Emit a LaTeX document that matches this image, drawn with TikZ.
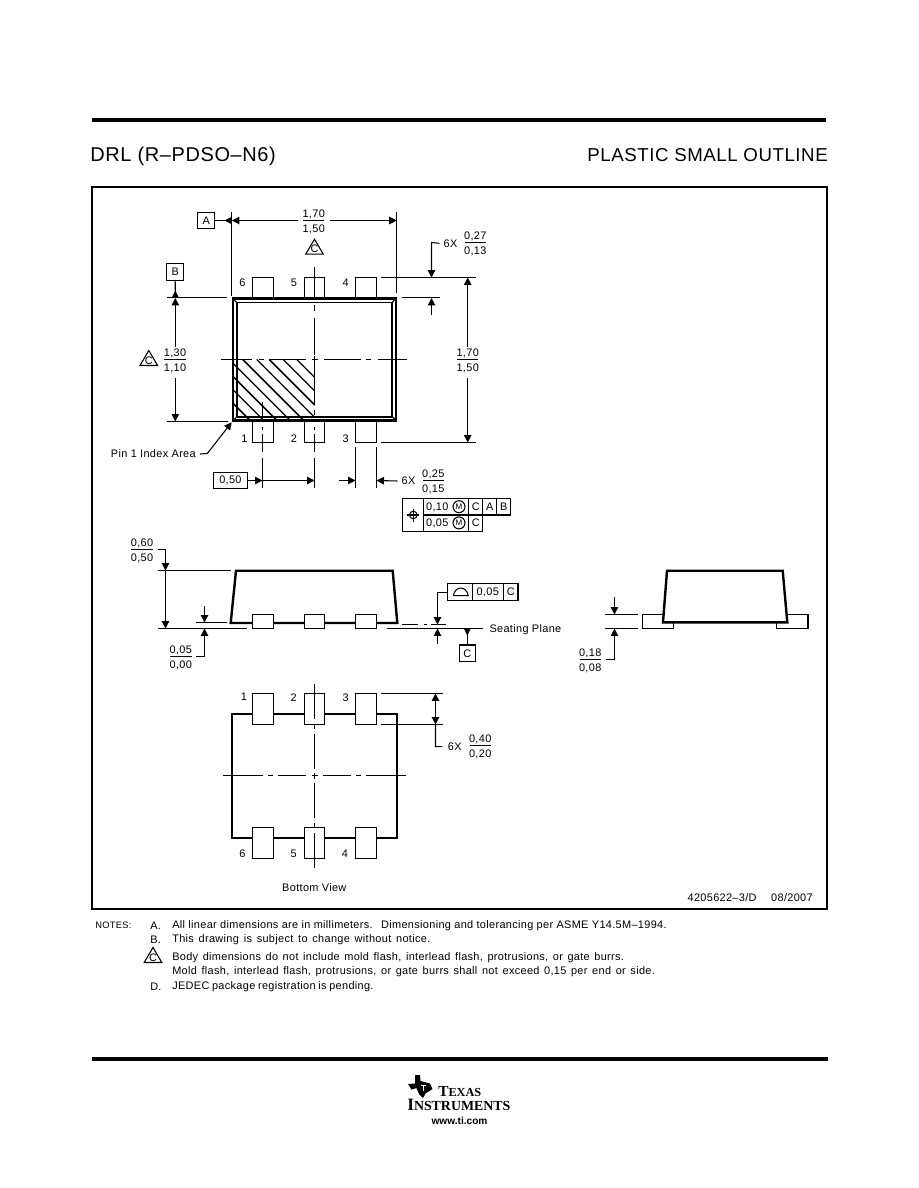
\documentclass[tikz,border=0pt]{standalone}
\usepackage{fontspec}
\setmainfont[LetterSpace=3]{Liberation Sans}
\newfontfamily\plainsans{Liberation Sans}
\newfontfamily\logoserif{Liberation Serif}
\usetikzlibrary{arrows.meta}
\tikzset{
  >={Triangle[length=5.6pt,width=5.6pt]},
  lbl/.style={inner sep=0pt,font=\fontsize{8.2}{9}\selectfont},
  titletxt/.style={inner sep=0pt,font=\fontsize{14}{16}\selectfont},
  thinline/.style={line width=0.8pt},
  bodyline/.style={line width=1.8pt},
  pinbox/.style={line width=0.8pt,fill=white},
  cline/.style={line width=0.8pt,dash pattern=on 2.25pt off 4.3pt on 21pt off 3.75pt on 3.75pt off 3.75pt on 30pt off 60pt},
  clinev/.style={line width=0.8pt,dash pattern=on 2.25pt off 3pt on 26.25pt off 3.75pt on 3.75pt off 3.75pt on 26.25pt off 60pt},
  clinetop/.style={line width=0.8pt,dash pattern=on 2.25pt off 4.5pt on 27.75pt off 3.75pt on 3.75pt off 5.25pt on 25pt off 60pt},
}
% fraction: name, x, y of the bar, upper and lower value
\newcommand{\tolfrac}[5]{
  \node[lbl] (#1up) at (#2,#3-6) {#4};
  \node[lbl] (#1lo) at (#2,#3+8.5) {#5};
  \draw[thinline] (#2-10.7,#3) -- (#2+10.7,#3);
}
% triangle with a C in it
\newcommand{\tricee}[3]{
  \draw[thinline] (#2-8.8,#3+7.5) -- (#2+8.8,#3+7.5) -- (#2,#3-7.5) -- cycle;
  \node[lbl] (#1) at (#2,#3+2.3) {C};
}
\begin{document}
\begin{tikzpicture}[x=0.75pt,y=-0.75pt]
  \useasboundingbox (0,0) rectangle (918,1188);
  \fill[white] (0,0) rectangle (918,1188);

  % header and frame
  \draw[line width=2.8pt] (92,120) -- (826,120);
  \node[titletxt,font=\fontsize{15}{16}\selectfont,anchor=base west] (title) at (90,161) {DRL (R–PDSO–N6)};
  \node[titletxt,anchor=base east] (subtitle) at (828,161) {PLASTIC SMALL OUTLINE};
  \draw[line width=1.5pt] (92,187) rectangle (827,909);
  \node[lbl,anchor=east] (docnum) at (813,898) {4205622–3/D\hspace{11pt}08/2007};

  % top view, pins
  \foreach \px/\pw in {252.3/21.4,304.3/20.4,355.3/21.4} {
    \draw[thinline] (\px,298) rectangle (\px+\pw,277.5);
    \draw[thinline] (\px,421) rectangle (\px+\pw,442.5);
  }
  % hatched corner
  \begin{scope}
    \clip (232,359.5) rectangle (314.5,421);
    \foreach \xt/\lw in {296.7/0.9,283.3/0.9,269.3/1.25,256.7/0.9,242.7/1.25,229.3/0.9,216/1.25,202.7/0.9,189.3/1.25}
      \draw[line width=\lw pt] (\xt,359.5) -- ++(70,70);
  \end{scope}
  % body, double outline
  \draw[line width=2pt] (233,298.7) rectangle (396,420.5);
  \draw[line width=1.4pt] (236.8,302.5) rectangle (392.3,417);
  \foreach \cx/\cy/\dx/\dy in {233/298.7/4/4,396/298.7/-4/4,233/420.5/4/-4,396/420.5/-4/-4}
    \draw[thinline] (\cx,\cy) -- ++(\dx,\dy);
  % centre lines
  \draw[clinetop] (314.5,359.5) -- (406.8,359.5);
  \draw[clinetop] (314.5,359.5) -- (221,359.5);
  \draw[thinline] (314.5,267) -- (314.5,297) (314.5,305) -- (314.5,311) (314.5,318) -- (314.5,355);
  \draw[thinline] (314.5,356) -- (314.5,405) (314.5,410) -- (314.5,415);
  \foreach \lx in {262.5,314.5}
    \draw[thinline] (\lx,427) -- (\lx,430) (\lx,434) -- (\lx,452) (\lx,458) -- (\lx,488);
  \draw[thinline] (262.5,401.7) -- (262.5,421);

  \node[lbl] (top6) at (242.3,282.5) {6};
  \node[lbl] (top5) at (294,282.5) {5};
  \node[lbl] (top4) at (345.7,282.5) {4};
  \node[lbl] (top1) at (244.3,439) {1};
  \node[lbl] (top2) at (294,439) {2};
  \node[lbl] (top3) at (345.7,439) {3};

  % width dimension and datum A
  \node[draw,thinline,lbl,minimum width=12.8pt,minimum height=12.3pt] (dtmA) at (206.2,220.5) {A};
  \draw[thinline] (231.7,212) -- (231.7,296);
  \draw[thinline] (396.7,212) -- (396.7,292.7);
  \draw[thinline] (dtmA.east) -- (226,220.5);
  \fill (231.3,217) -- (224.5,220.5) -- (231.3,224) -- cycle;
  \draw[thinline,->] (298,220.5) -- (232,220.5);
  \draw[thinline,->] (330,220.5) -- (396.7,220.5);
  \tolfrac{wd}{313.7}{220.5}{1,70}{1,50}
  \tricee{wdC}{314.5}{246.7}

  % height dimension and datum B
  \node[draw,thinline,lbl,minimum width=12.8pt,minimum height=12.8pt] (dtmB) at (175.2,271.8) {B};
  \draw[thinline] (167.3,297.5) -- (226.7,297.5);
  \draw[thinline] (167.3,421.5) -- (228,421.5);
  \draw[thinline] (dtmB.south) -- (175.3,292);
  \fill (171.8,297.5) -- (175.3,290.5) -- (178.8,297.5) -- cycle;
  \draw[thinline,->] (175.3,346.7) -- (175.3,298);
  \draw[thinline,->] (175.3,378.3) -- (175.3,421.5);
  \tolfrac{ht}{175}{359.5}{1,30}{1,10}
  \tricee{htC}{148.8}{358}

  % overall height
  \draw[thinline] (381,277.5) -- (475.7,277.5);
  \draw[thinline] (381,442.5) -- (475.7,442.5);
  \draw[thinline,->] (467.7,346.7) -- (467.7,277.5);
  \draw[thinline,->] (467.7,378.3) -- (467.7,442.5);
  \tolfrac{ov}{467.7}{359.5}{1,70}{1,50}

  % lead thickness, top
  \draw[thinline] (401.7,297.5) -- (440,297.5);
  \node[lbl] (topsix) at (450.5,243.3) {6X};
  \tolfrac{lt}{475.3}{242.5}{0,27}{0,13}
  \draw[thinline,->] ([xshift=-3pt]topsix.west) -- (431.5,242.5) -- (431.5,277.5);
  \draw[thinline,->] (431.5,315) -- (431.5,298);

  % pin 1 leader
  \node[lbl,anchor=east] (pinidx) at (196,454) {Pin 1 Index Area};
  \draw[thinline,->] ([xshift=3pt]pinidx.east) -- (207.3,453.5) -- (231.7,422.3);

  % pitch and lead width
  \node[draw,thinline,lbl,minimum width=26pt,minimum height=12pt] (pitch) at (230.4,480.5) {0,50};
  \draw[thinline,->] (pitch.east) -- (262.5,480.5);
  \draw[thinline,->] (262.5,480.5) -- (314.5,480.5);
  \draw[thinline] (355.5,447) -- (355.5,488);
  \draw[thinline] (376.5,447) -- (376.5,488);
  \node[lbl] (lwsix) at (408.5,481) {6X};
  \draw[thinline,->] (339,480.5) -- (355.5,480.5);
  \draw[thinline,->] ([xshift=-3pt]lwsix.west) -- (376.5,480.5);
  \tolfrac{lw}{433.3}{480.5}{0,25}{0,15}

  % position tolerance frame
  \draw[thinline] (402.3,498.3) -- (510.7,498.3) -- (510.7,515) -- (482.7,515) -- (482.7,531.7) -- (402.3,531.7) -- cycle;
  \draw[thinline] (423.7,515) -- (482.7,515);
  \draw[thinline] (423.7,498.3) -- (423.7,531.7);
  \draw[thinline] (468.7,498.3) -- (468.7,531.7);
  \draw[thinline] (482.7,498.3) -- (482.7,515);
  \draw[thinline] (496.7,498.3) -- (496.7,515);
  \draw[thinline] (413.3,515) circle (3.8);
  \draw[thinline] (407.3,515) -- (419.3,515) (413.3,508.5) -- (413.3,521.5);
  \node[lbl] (pt1) at (437.3,507.2) {0,10};
  \node[lbl] (pt2) at (437.3,523.4) {0,05};
  \foreach \my/\mname in {506.7/mma,522.9/mmb}
    \node[draw,circle,thinline,lbl,font=\fontsize{6}{7}\selectfont,minimum size=9pt] (\mname) at (459,\my) {M};
  \node[lbl] (ptc1) at (475.7,506.7) {C};
  \node[lbl] (pta) at (489.7,506.7) {A};
  \node[lbl] (ptb) at (503.7,506.7) {B};
  \node[lbl] (ptc2) at (475.7,522.9) {C};

  % side view
  \draw[bodyline] (236,570.7) -- (392.7,570.7) -- (397.3,623) -- (230.7,623) -- cycle;
  \foreach \px/\pw in {252.3/21,304.3/20,355.7/21}
    \draw[pinbox] (\px,614.5) rectangle (\px+\pw,628.5);
  \draw[thinline] (158.3,628.5) -- (246.7,628.5);
  \draw[thinline] (386.7,628.5) -- (483.3,628.5);
  \node[lbl,anchor=west] (seat) at (489.3,629.5) {Seating Plane};

  \draw[thinline] (157.7,570.5) -- (230.7,570.5);
  \tolfrac{sh}{142}{549.5}{0,60}{0,50}
  \draw[thinline,->] (157.7,549.5) -- (165.5,549.5) -- (165.5,570.5);
  \draw[thinline,->] (165.5,571) -- (165.5,628.5);

  \draw[thinline] (196,622.5) -- (226.7,622.5);
  \draw[thinline,->] (204.5,606) -- (204.5,622.5);
  \tolfrac{so}{180.8}{656.5}{0,05}{0,00}
  \draw[thinline,->] (196,656.5) -- (204.5,656.5) -- (204.5,628.5);

  % flatness frame and datum C
  \draw[thinline] (447.3,583.5) rectangle (518,600.5);
  \draw[thinline] (472.3,583.5) -- (472.3,600.5) (503.3,583.5) -- (503.3,600.5);
  \draw[thinline] (453.3,595.7) -- (468.3,595.7) .. controls (466.5,585.5) and (455,585.5) .. (453.3,595.7);
  \node[lbl] (flt) at (487.7,592.5) {0,05};
  \node[lbl] (fltc) at (510.7,592) {C};
  \draw[thinline] (402.3,624.5) -- (418,624.5) (424,624.5) -- (427,624.5) (431,624.5) -- (446,624.5);
  \draw[thinline,->] (447.3,592.5) -- (437.5,592.5) -- (437.5,624.5);
  \draw[thinline,->] (437.5,644.3) -- (437.5,628.5);
  \node[draw,thinline,lbl,minimum width=12pt,minimum height=12.5pt] (dtmC) at (467.3,653.3) {C};
  \draw[thinline] (467.3,634) -- (dtmC.north);
  \fill (463.8,628.5) -- (467.3,635.5) -- (470.8,628.5) -- cycle;

  % end view
  \draw[thinline] (663,614.5) -- (642.5,614.5) -- (642.5,628.5) -- (673.5,628.5) -- (673.5,623);
  \draw[thinline] (787.3,614.5) -- (808,614.5) -- (808,628.5) -- (776.5,628.5) -- (776.5,623);
  \draw[bodyline] (667,570.7) -- (782.7,570.7) -- (787.3,622.3) -- (663,622.3) -- cycle;
  \draw[thinline] (605,614.5) -- (638.3,614.5);
  \draw[thinline] (605,628.5) -- (638.3,628.5);
  \draw[thinline,->] (614.5,597.3) -- (614.5,614.5);
  \tolfrac{ev}{590.2}{659.5}{0,18}{0,08}
  \draw[thinline,->] (605.7,659.5) -- (614.5,659.5) -- (614.5,628.5);

  % bottom view
  \draw[bodyline] (231.7,713.7) rectangle (397,837.7);
  \foreach \px/\pw in {252.3/21,304.3/20,355.3/21} {
    \draw[pinbox] (\px,693.5) rectangle (\px+\pw,724.5);
    \draw[pinbox] (\px,827.5) rectangle (\px+\pw,858.5);
  }
  \draw[cline] (314.5,775.5) -- (407,775.5);
  \draw[cline] (314.5,775.5) -- (221,775.5);
  \draw[clinev] (314.5,775.5) -- (314.5,683.3);
  \draw[clinev] (314.5,775.5) -- (314.5,868.3);
  \node[lbl] (bot1) at (244,696.7) {1};
  \node[lbl] (bot2) at (293.7,697.3) {2};
  \node[lbl] (bot3) at (345.7,697.3) {3};
  \node[lbl] (bot6) at (242.3,853.7) {6};
  \node[lbl] (bot5) at (293.7,853.7) {5};
  \node[lbl] (bot4) at (345,853.7) {4};
  \node[lbl] (botview) at (314.3,887.3) {Bottom View};

  \draw[thinline] (381,693.5) -- (443.3,693.5);
  \draw[thinline] (381,724.5) -- (443.3,724.5);
  \draw[thinline,<->] (435.5,693.5) -- (435.5,724.5);
  \node[lbl] (padsix) at (454.8,746.7) {6X};
  \draw[thinline] (435.5,724.5) -- (435.5,746.5) -- ([xshift=-4pt]padsix.west);
  \tolfrac{pd}{480.2}{745.5}{0,40}{0,20}

  % notes
  \node[lbl,font=\fontsize{7}{9}\selectfont,anchor=west] (notes) at (95,925) {NOTES:};
  \foreach \ly/\tag/\tname in {925.5/A./tga,940/B./tgb,986.5/D./tgd}
    \node[lbl,anchor=west] (\tname) at (150,\ly) {\tag};
  \node[lbl,anchor=west] (notea) at (172,925.5) {All linear dimensions are in millimeters.\hspace{3pt} Dimensioning and tolerancing per ASME Y14.5M–1994.};
  \node[lbl,anchor=west] (noteb) at (172,940) {\spaceskip=3.6pt This drawing is subject to change without notice.};
  \tricee{noteC}{153}{955}
  \node[lbl,anchor=west] (notec) at (172,958) {\spaceskip=3.45pt Body dimensions do not include mold flash, interlead flash, protrusions, or gate burrs.};
  \node[lbl,anchor=west] (noted) at (172,972) {\spaceskip=3.5pt Mold flash, interlead flash, protrusions, or gate burrs shall not exceed 0,15 per end or side.};
  \node[lbl,anchor=west] (notee) at (172,986.5) {\spaceskip=2pt JEDEC package registration is pending.};

  % footer and logo
  \draw[line width=2.8pt] (92,1059) -- (828,1059);
  \fill (415,1075) -- (420,1075) -- (420.5,1081) -- (430,1083.5) -- (432.5,1089) -- (425.5,1093.5) -- (423,1098) -- (419,1094) -- (416.5,1088) -- (411.5,1089.5) -- (408,1084) -- (415,1083.5) -- cycle;
  \draw[white,line width=0.7pt] (421,1085) -- (425.5,1085) (423,1085) -- (423,1091);
  \node[inner sep=0pt,anchor=base west,font=\logoserif\bfseries\fontsize{9.2}{9}\selectfont] (logoa) at (438,1096) {{\fontsize{11.5}{11}\selectfont T}EXAS};
  \node[inner sep=0pt,anchor=base west,font=\logoserif\bfseries\fontsize{10.4}{9}\selectfont] (logob) at (407,1110) {{\fontsize{13}{11}\selectfont I}NSTRUMENTS};
  \node[inner sep=0pt,font=\plainsans\bfseries\fontsize{7.6}{9}\selectfont] (logoc) at (459.5,1121) {www.ti.com};
\end{tikzpicture}
\end{document}
